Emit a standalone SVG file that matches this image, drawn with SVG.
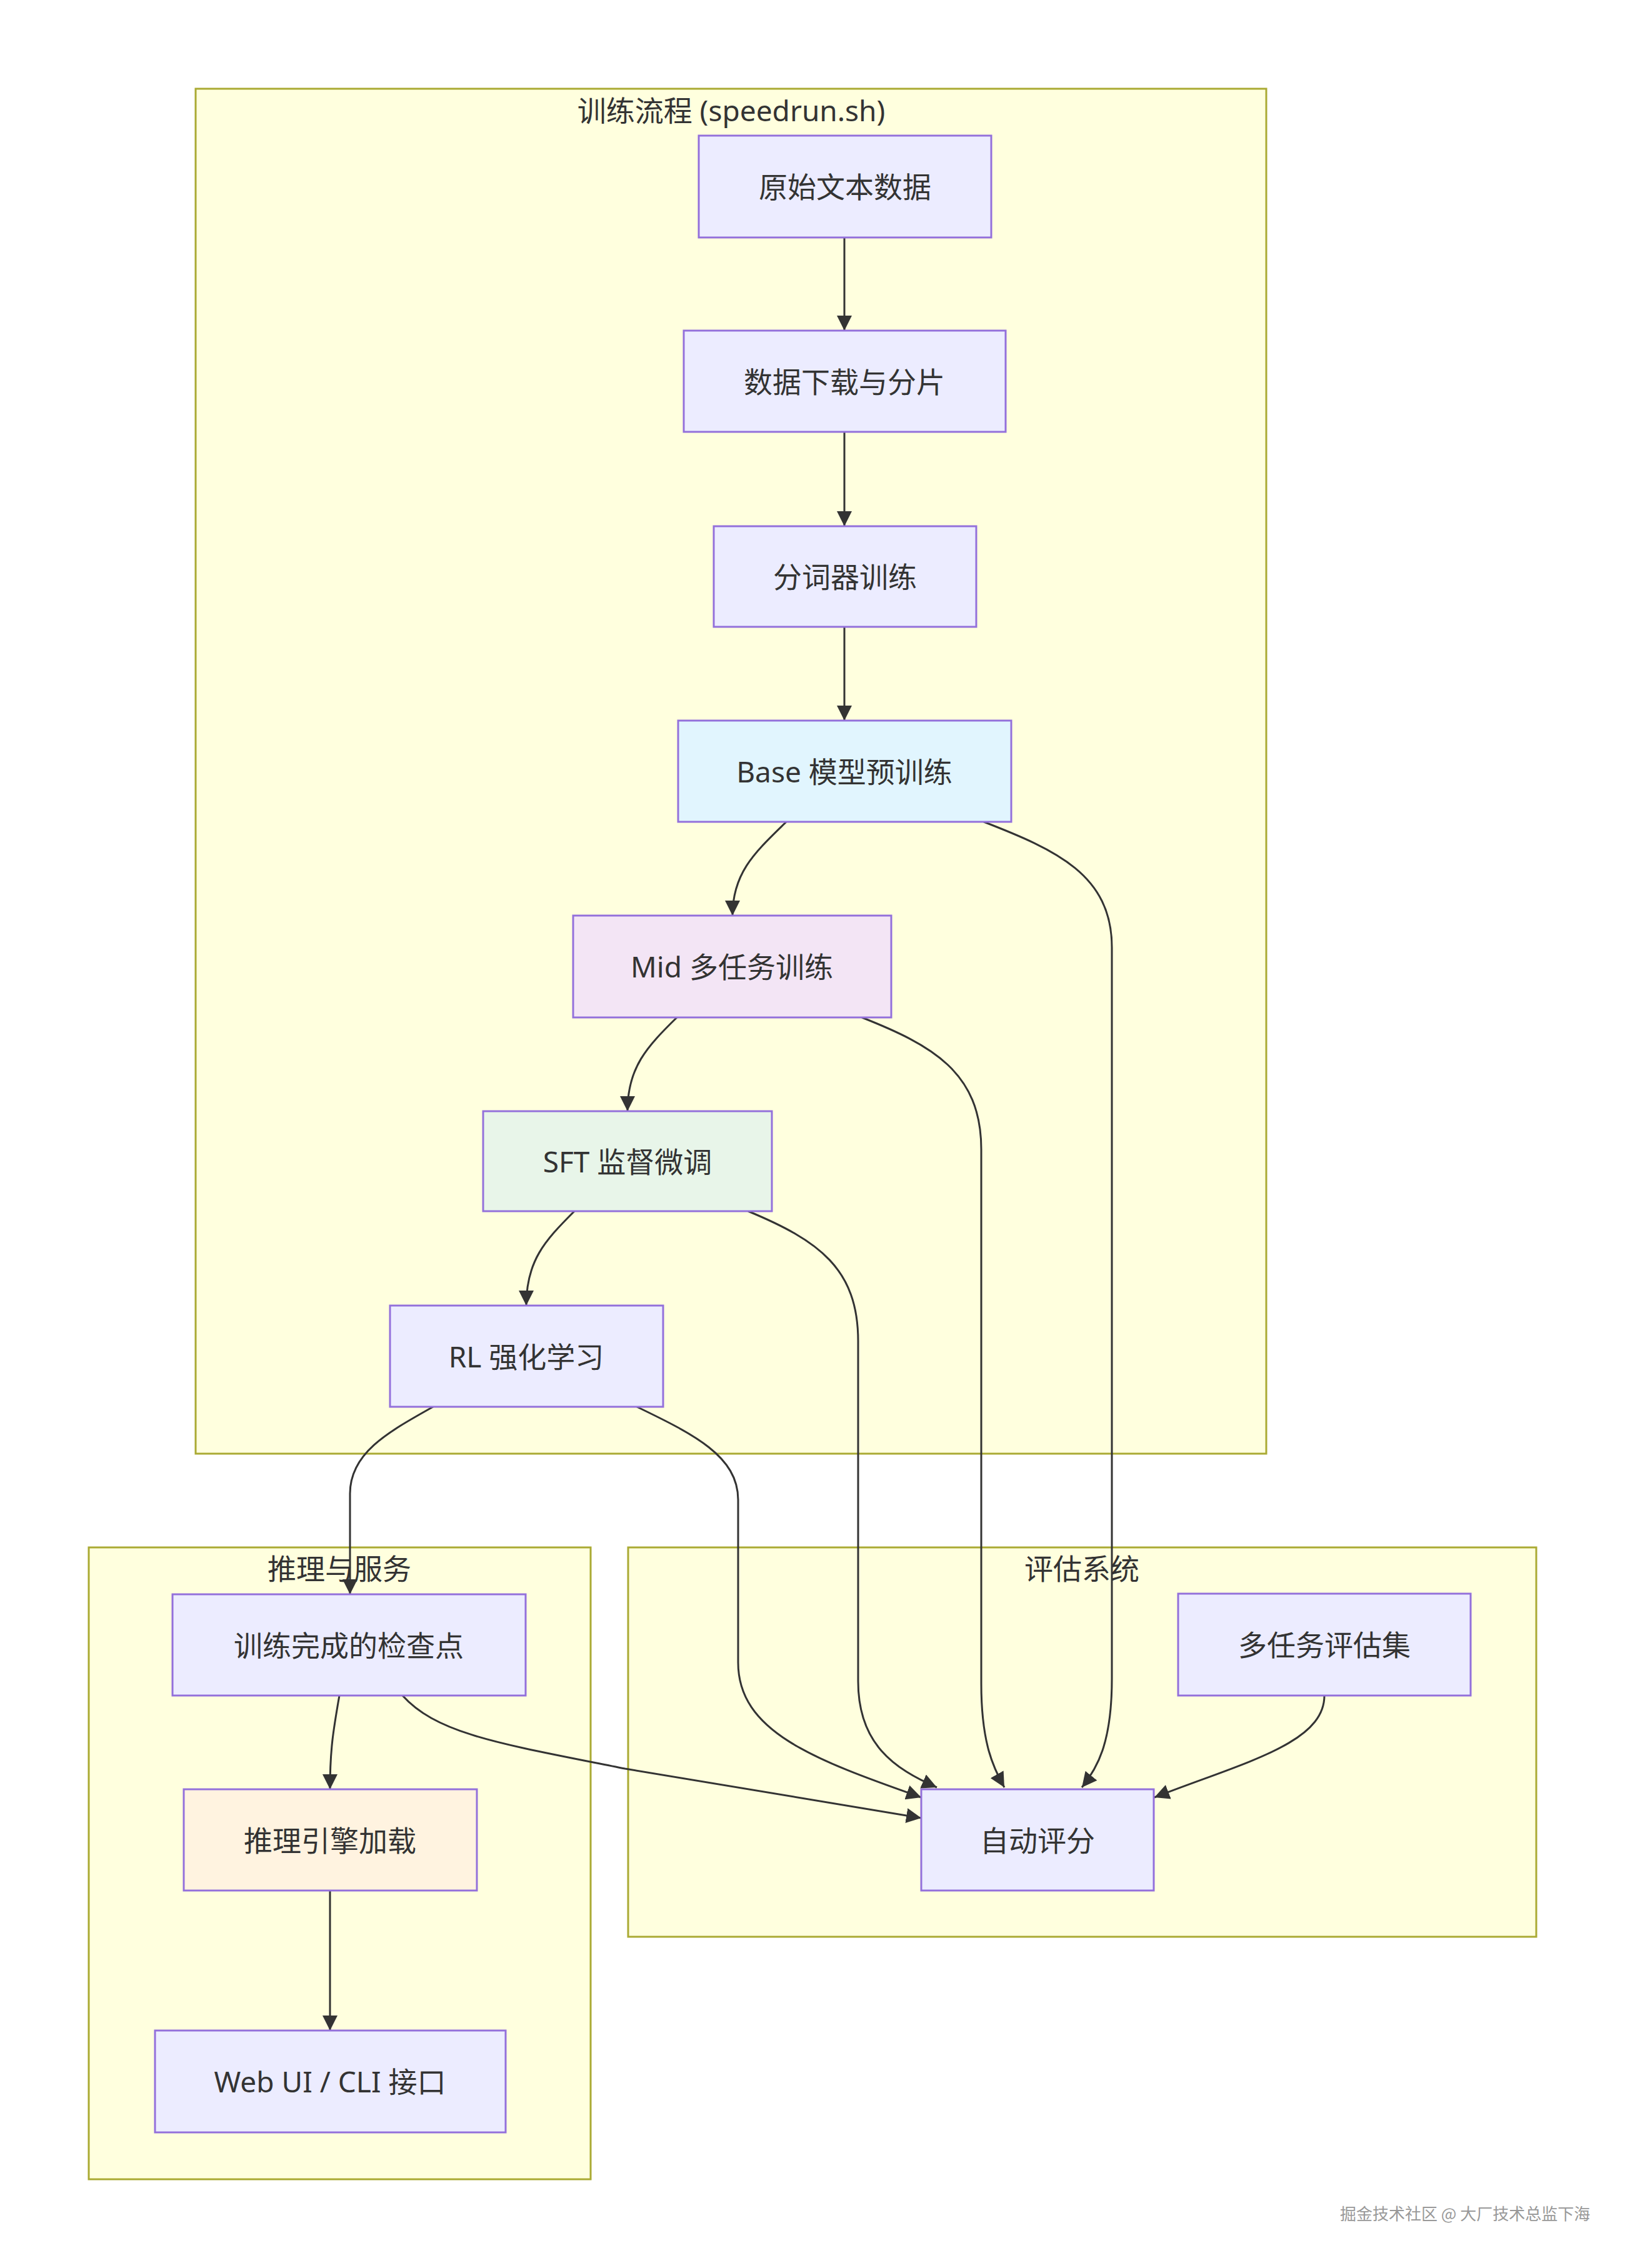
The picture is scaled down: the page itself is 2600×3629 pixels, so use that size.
<svg xmlns="http://www.w3.org/2000/svg" width="2600" height="3629" viewBox="0 0 2600 3629">
<style>
.cl{fill:#FFFFDE;stroke:#AAAA33;stroke-width:3}
.n{stroke:#9370DB;stroke-width:3}
.t{font-family:"Noto Sans","Noto Sans CJK SC",sans-serif;font-size:46px;fill:#333;text-anchor:middle;dominant-baseline:central}
.e{fill:none;stroke:#333;stroke-width:3}
.wm{font-family:"Noto Sans CJK SC",sans-serif;font-size:26px;fill:#999;text-anchor:start}
</style>
<defs>
<marker id="ah" markerUnits="userSpaceOnUse" markerWidth="26" markerHeight="24" refX="24" refY="12" orient="auto">
<path d="M0,0 L24,12 L0,24 z" fill="#333"/>
</marker>
</defs>
<rect width="2600" height="3629" fill="#fff"/>
<g id="cluster-train"><rect class="cl" x="313" y="142" width="1713" height="2184"/><text class="t" x="1170" y="176">训练流程 (speedrun.sh)</text></g>
<g id="cluster-infer"><rect class="cl" x="142" y="2476" width="803" height="1011"/><text class="t" x="543" y="2509">推理与服务</text></g>
<g id="cluster-eval"><rect class="cl" x="1005" y="2476" width="1453" height="623"/><text class="t" x="1731" y="2509">评估系统</text></g>

<g id="edges">
<path class="e" marker-end="url(#ah)" d="M1351,380 L1351,529"/>
<path class="e" marker-end="url(#ah)" d="M1351,691 L1351,842"/>
<path class="e" marker-end="url(#ah)" d="M1351,1003 L1351,1153"/>
<path class="e" marker-end="url(#ah)" d="M1258,1315 C1210,1362 1172,1395 1172,1465"/>
<path class="e" marker-end="url(#ah)" d="M1083,1628 C1035,1675 1004,1708 1004,1778"/>
<path class="e" marker-end="url(#ah)" d="M919,1938 C871,1986 842,2018 842,2089"/>
<path class="e" marker-end="url(#ah)" d="M693,2251 C620,2292 560,2325 560,2390 L560,2551"/>
<path class="e" marker-end="url(#ah)" d="M1019,2251 C1110,2295 1181,2330 1181,2400 L1181,2660 C1181,2770 1300,2815 1474,2876"/>
<path class="e" marker-end="url(#ah)" d="M1197,1938 C1310,1985 1373,2030 1373,2146 L1373,2690 C1373,2790 1430,2830 1499,2860"/>
<path class="e" marker-end="url(#ah)" d="M1379,1628 C1490,1672 1570,1715 1570,1839 L1570,2694 C1570,2790 1590,2830 1607,2860"/>
<path class="e" marker-end="url(#ah)" d="M1574,1315 C1690,1360 1779,1400 1779,1516 L1779,2686 C1779,2790 1755,2830 1731,2860"/>
<path class="e" marker-end="url(#ah)" d="M644,2713 C700,2775 800,2790 1000,2830 L1474,2909"/>
<path class="e" marker-end="url(#ah)" d="M543,2713 C533,2770 528,2800 528,2863"/>
<path class="e" marker-end="url(#ah)" d="M528,3025 L528,3249"/>
<path class="e" marker-end="url(#ah)" d="M2119,2713 C2119,2790 1990,2820 1847,2876"/>
</g>

<g id="n1"><rect class="n" fill="#ECECFF" x="1118" y="217" width="468" height="163"/><text class="t" x="1352" y="298">原始文本数据</text></g>
<g id="n2"><rect class="n" fill="#ECECFF" x="1094" y="529" width="515" height="162"/><text class="t" x="1351" y="610">数据下载与分片</text></g>
<g id="n3"><rect class="n" fill="#ECECFF" x="1142" y="842" width="420" height="161"/><text class="t" x="1352" y="922">分词器训练</text></g>
<g id="n4"><rect class="n" fill="#E1F5FE" x="1085" y="1153" width="533" height="162"/><text class="t" x="1351" y="1234">Base 模型预训练</text></g>
<g id="n5"><rect class="n" fill="#F3E5F5" x="917" y="1465" width="509" height="163"/><text class="t" x="1171" y="1546">Mid 多任务训练</text></g>
<g id="n6"><rect class="n" fill="#E8F5E9" x="773" y="1778" width="462" height="160"/><text class="t" x="1004" y="1858">SFT 监督微调</text></g>
<g id="n7"><rect class="n" fill="#ECECFF" x="624" y="2089" width="437" height="162"/><text class="t" x="842" y="2170">RL 强化学习</text></g>
<g id="n8"><rect class="n" fill="#ECECFF" x="276" y="2551" width="565" height="162"/><text class="t" x="558" y="2632">训练完成的检查点</text></g>
<g id="n9"><rect class="n" fill="#FFF3E0" x="294" y="2863" width="469" height="162"/><text class="t" x="528" y="2944">推理引擎加载</text></g>
<g id="n10"><rect class="n" fill="#ECECFF" x="248" y="3249" width="561" height="163"/><text class="t" x="528" y="3330">Web UI / CLI 接口</text></g>
<g id="n11"><rect class="n" fill="#ECECFF" x="1885" y="2550" width="468" height="163"/><text class="t" x="2119" y="2631">多任务评估集</text></g>
<g id="n12"><rect class="n" fill="#ECECFF" x="1474" y="2863" width="372" height="162"/><text class="t" x="1660" y="2944">自动评分</text></g>
<text class="wm" x="2144" y="3552">掘金技术社区 @ 大厂技术总监下海</text>
</svg>
